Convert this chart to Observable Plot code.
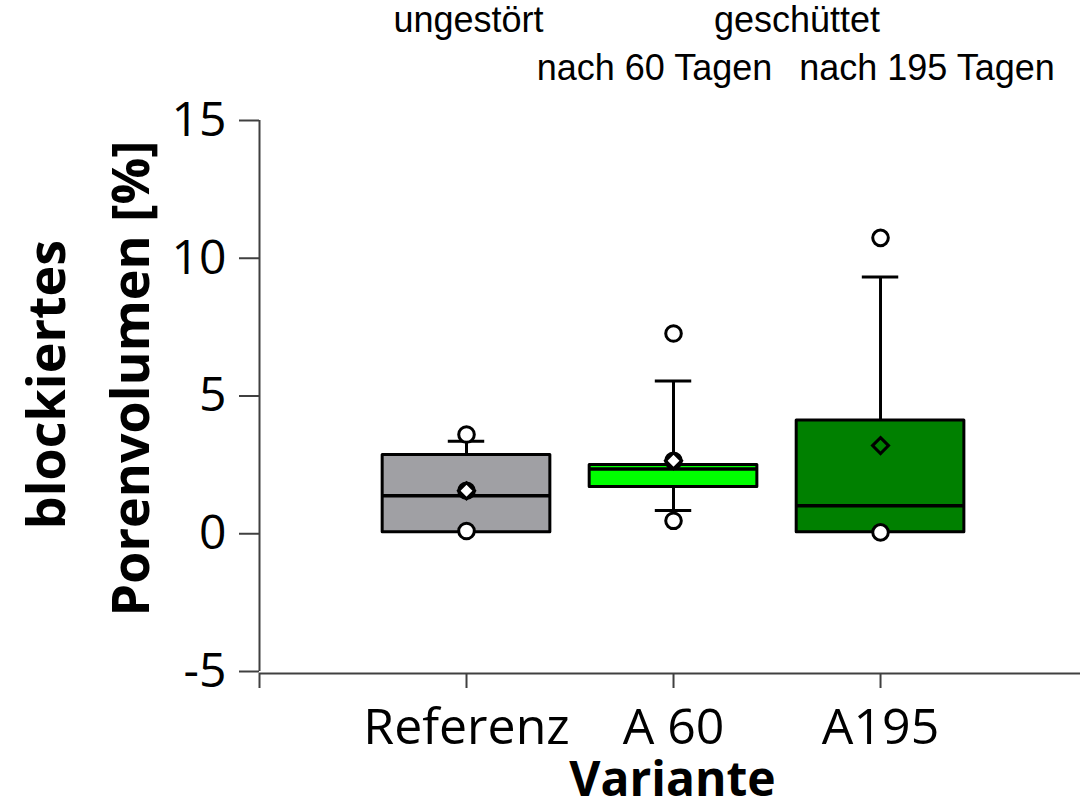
<!DOCTYPE html>
<html><head><meta charset="utf-8">
<script src="https://cdn.jsdelivr.net/npm/d3@7"></script>
<script src="https://cdn.jsdelivr.net/npm/@observablehq/plot@0.6"></script>
<style>
body{margin:0;background:#fff;}
#head{position:relative;width:1080px;height:100px;font-family:"Liberation Sans",Arial,sans-serif;font-size:36px;line-height:36px;color:#000;}
#head span{position:absolute;white-space:nowrap;transform:translateX(-50%);}
#chart svg{display:block;}
</style></head><body>
<div id="head"></div>
<div id="chart"></div>
<script>
// ---- data ----
const categories = ["Referenz", "A 60", "A195"];
const positions = [1, 2, 3];
const q1 = [0.05, 1.70, 0.05];
const median = [1.38, 2.35, 1.02];
const q3 = [2.86, 2.50, 4.11];
const whiskerLow = [0.05, 0.84, 0.05];
const whiskerHigh = [3.36, 5.54, 9.32];
const means = [1.56, 2.65, 3.20];
const boxColors = ["#a0a0a4", "#00ff00", "#008000"];
const pointCategory = ["Referenz", "Referenz", "Referenz", "A 60", "A 60", "A 60", "A195", "A195"];
const pointValues = [0.10, 1.56, 3.60, 0.47, 2.65, 7.27, 0.05, 10.74];
const yTicks = [-5, 0, 5, 10, 15];
const headerLabels = ["ungestört", "geschüttet", "nach 60 Tagen", "nach 195 Tagen"];
const yLabelLines = ["blockiertes", "Porenvolumen [%]"];
const xLabel = "Variante";

// ---- layout (header text placement) ----
const headerLayout = [
  {left: 468.5, top: 1.5},
  {left: 797, top: 1.5},
  {left: 654.5, top: 49.5},
  {left: 927, top: 49.5}
];
const head = document.getElementById("head");
headerLabels.forEach((t, i) => {
  const s = document.createElement("span");
  s.textContent = t;
  s.style.left = headerLayout[i].left + "px";
  s.style.top = headerLayout[i].top + "px";
  head.appendChild(s);
});

const boxes = categories.map((c, i) => ({
  cat: c, pos: positions[i], q1: q1[i], median: median[i], q3: q3[i],
  lo: whiskerLow[i], hi: whiskerHigh[i], mean: means[i], color: boxColors[i]
}));
const pts = pointValues.map((v, i) => ({pos: positions[categories.indexOf(pointCategory[i])], v}));
const half = 0.405, cap = 0.088, xMax = 3.966;

const plot = Plot.plot({
  width: 1080, height: 708,
  marginLeft: 259, marginRight: 0, marginTop: 20, marginBottom: 137,
  x: {domain: [0, xMax]},
  y: {domain: [-5, 15]},
  color: {type: "identity"},
  style: {fontFamily: "'Open Sans', sans-serif", color: "#000", background: "#fff", overflow: "visible"},
  marks: [
    Plot.ruleX([0], {y1: -5, y2: 15, stroke: "#404040", strokeWidth: 2}),
    Plot.ruleY([-5], {x1: 0, x2: xMax, stroke: "#404040", strokeWidth: 2, dy: 2}),
    Plot.axisY({ticks: yTicks, tickSize: 20, tickPadding: 13, fontSize: 48,
      tickFormat: d => String(d), stroke: "#404040", strokeWidth: 2, fill: "#000", label: null}),
    Plot.axisX({ticks: [0, ...positions], tickSize: 15, tickPadding: 20, fontSize: 50, dy: 2,
      tickFormat: d => d === 0 ? "" : categories[positions.indexOf(d)],
      stroke: "#404040", strokeWidth: 2, fill: "#000", label: null}),
    // whiskers
    Plot.ruleX(boxes.filter(d => d.hi > d.q3), {x: "pos", y1: "q3", y2: "hi", stroke: "#000", strokeWidth: 3}),
    Plot.ruleX(boxes.filter(d => d.lo < d.q1), {x: "pos", y1: "lo", y2: "q1", stroke: "#000", strokeWidth: 3}),
    // boxes
    Plot.rect(boxes, {x1: d => d.pos - half, x2: d => d.pos + half, y1: "q1", y2: "q3",
      fill: d => d.color, stroke: "#000", strokeWidth: 3, strokeLinejoin: "round"}),
    Plot.ruleY(boxes, {y: "median", x1: d => d.pos - half, x2: d => d.pos + half, stroke: "#000", strokeWidth: 3.5}),
    // caps
    Plot.ruleY(boxes.filter(d => d.hi > d.q3), {y: "hi", x1: d => d.pos - cap, x2: d => d.pos + cap, stroke: "#000", strokeWidth: 3}),
    Plot.ruleY(boxes.filter(d => d.lo < d.q1), {y: "lo", x1: d => d.pos - cap, x2: d => d.pos + cap, stroke: "#000", strokeWidth: 3}),
    // points and means
    Plot.dot(pts, {x: "pos", y: "v", r: 7.8, stroke: "#000", strokeWidth: 3, fill: "#fff"}),
    Plot.dot(boxes, {x: "pos", y: "mean", symbol: "diamond2", r: 7.2, stroke: "#000", strokeWidth: 3, fill: "none"}),
    // axis titles
    Plot.text([yLabelLines[0]], {text: d => d, frameAnchor: "left", textAnchor: "middle", rotate: -90,
      dx: -211.6, dy: -11.5, fontSize: 52, fontWeight: "bold", fill: "#000"}),
    Plot.text([yLabelLines[1]], {text: d => d, frameAnchor: "left", textAnchor: "middle", rotate: -90,
      dx: -127.6, dy: -17.5, fontSize: 52, fontWeight: "bold", fill: "#000"}),
    Plot.text([xLabel], {text: d => d, frameAnchor: "bottom", lineAnchor: "top", dx: 2.5, dy: 90,
      fontSize: 48, fontWeight: "bold", fill: "#000"})
  ]
});
document.getElementById("chart").appendChild(plot);
</script>
</body></html>
